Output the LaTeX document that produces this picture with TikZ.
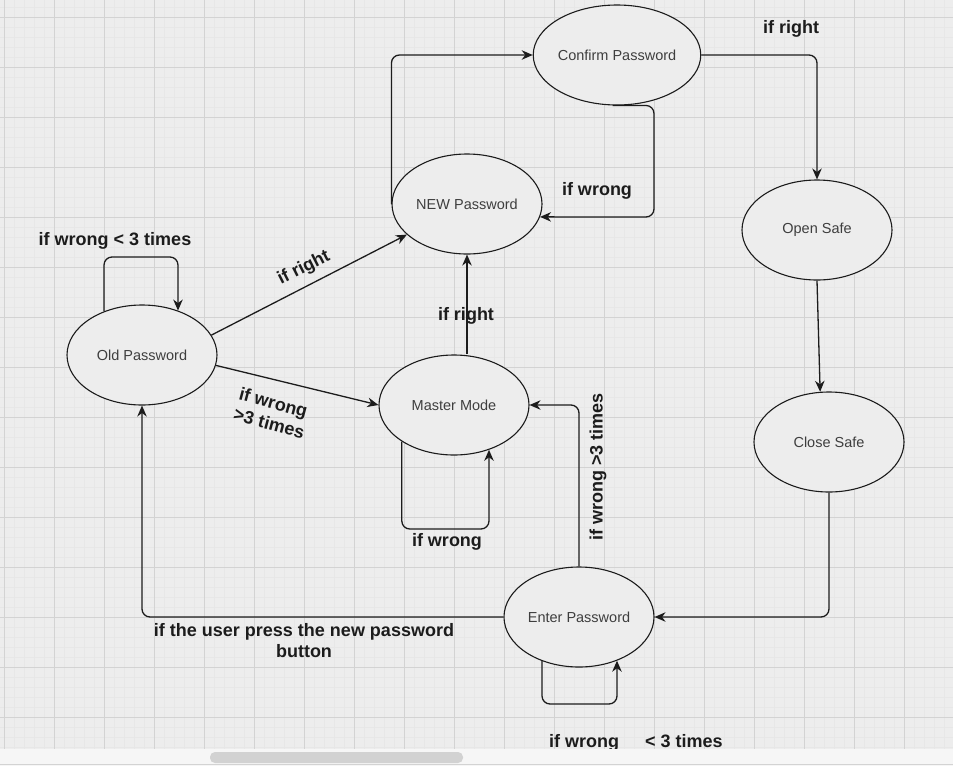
\documentclass[tikz,border=0pt]{standalone}
\usepackage{fontspec}
\setmainfont{Liberation Sans}
\usetikzlibrary{shapes,arrows.meta}
\definecolor{canvas}{HTML}{EDEDED}
\definecolor{minorgrid}{HTML}{E7E7E7}
\definecolor{majorgrid}{HTML}{D3D3D3}
\definecolor{ink}{HTML}{1C1C1C}
\definecolor{thumb}{HTML}{D2D2D2}

\begin{document}
\begin{tikzpicture} [x=1pt, y=-1pt,
                     state/.style= {shape=ellipse,
                                    minimum width=150pt, minimum height=100pt,
                                    inner sep=0, draw=ink, line width=1.1pt,
                                    fill=canvas, text=ink!85,
                                    font=\fontsize{14.5}{16}\selectfont},
                     trans/.style= {draw=ink, line width=1.3pt, rounded corners=8pt,
                                    -{Stealth[length=11pt,width=9.5pt,inset=3.5pt]}},
                     cond/.style=  {inner sep=0, text=ink, align=center,
                                    font=\bfseries\fontsize{18}{21}\selectfont}]

\useasboundingbox (0,0) rectangle (953,766);
\fill[canvas] (0,0) rectangle (953,766);
\foreach \x in {4,14,...,953}{\draw[minorgrid, line width=0.5pt] (\x,0) -- (\x,749);}
\foreach \y in {7,17,...,749}{\draw[minorgrid, line width=0.5pt] (0,\y) -- (953,\y);}
\foreach \x in {4,54,...,953}{\draw[majorgrid, line width=0.8pt] (\x,0) -- (\x,749);}
\foreach \y in {17,67,...,749}{\draw[majorgrid, line width=0.8pt] (0,\y) -- (953,\y);}

% states
\node[state] (confpw)    at (617,55)  {Confirm Password};
\node[state] (newpw)     at (467,204) {NEW Password};
\node[state] (oldpw)     at (142,355) {Old Password};
\node[state] (master)    at (454,405) {Master Mode};
\node[state] (opensafe)  at (817,230) {Open Safe};
\node[state] (closesafe) at (829,442) {Close Safe};
\node[state] (enterpw)   at (579,617) {Enter Password};

% transitions
\draw[trans] (confpw.east) -| (opensafe.north);
\draw[trans] (confpw.-95) -| (654,217) -- (newpw.-10);
\draw[trans] (newpw.west) |- (confpw.west);
\draw[trans] (oldpw.16) -- (newpw.207);
\draw[trans] (oldpw.-8) -- (master.west);
\draw[trans] (oldpw.131) |- (141,257) -| (oldpw.51);
\draw[trans] (newpw.south |- master.north) -- (newpw.south);
\draw[trans] (master.-145) |- (445,529) -| (master.-52);
\draw[trans] (enterpw.north) |- (master.east);
\draw[trans] (opensafe.south) -- (closesafe.100);
\draw[trans] (closesafe.south) |- (enterpw.east);
\draw[trans] (enterpw.west) -| (oldpw.south);
\draw[trans] (enterpw.-130) |- (579,704) -| (enterpw.-49);

% conditions
\node[cond] (c1) at (791,29)  {if right};
\node[cond] (c2) at (597,191) {if wrong};
\node[cond] (c3) at (115,241) {if wrong < 3 times};
\node[cond, rotate=27]  (c4) at (304,268) {if right};
\node[cond, rotate=-15, align=left] (c5) at (272,413) {if wrong\\>3 times};
\node[cond] (c6) at (466,316) {if right};
\node[cond] (c7) at (447,542) {if wrong};
\node[cond, rotate=90]  (c8) at (598,467) {if wrong >3 times};
\node[cond] (c9) at (304,641) {if the user press the new password\\button};
\node[cond, anchor=base west] (c10) at (549,747) {if wrong\hspace{26pt}< 3 times};

% scroll bar
\fill[canvas!50!white] (0,749) rectangle (953,766);
\fill[thumb, rounded corners=5pt] (210,752) rectangle (463,763);
\draw[majorgrid, line width=0.6pt] (0,764.5) -- (953,764.5);
\end{tikzpicture}
\end{document}
